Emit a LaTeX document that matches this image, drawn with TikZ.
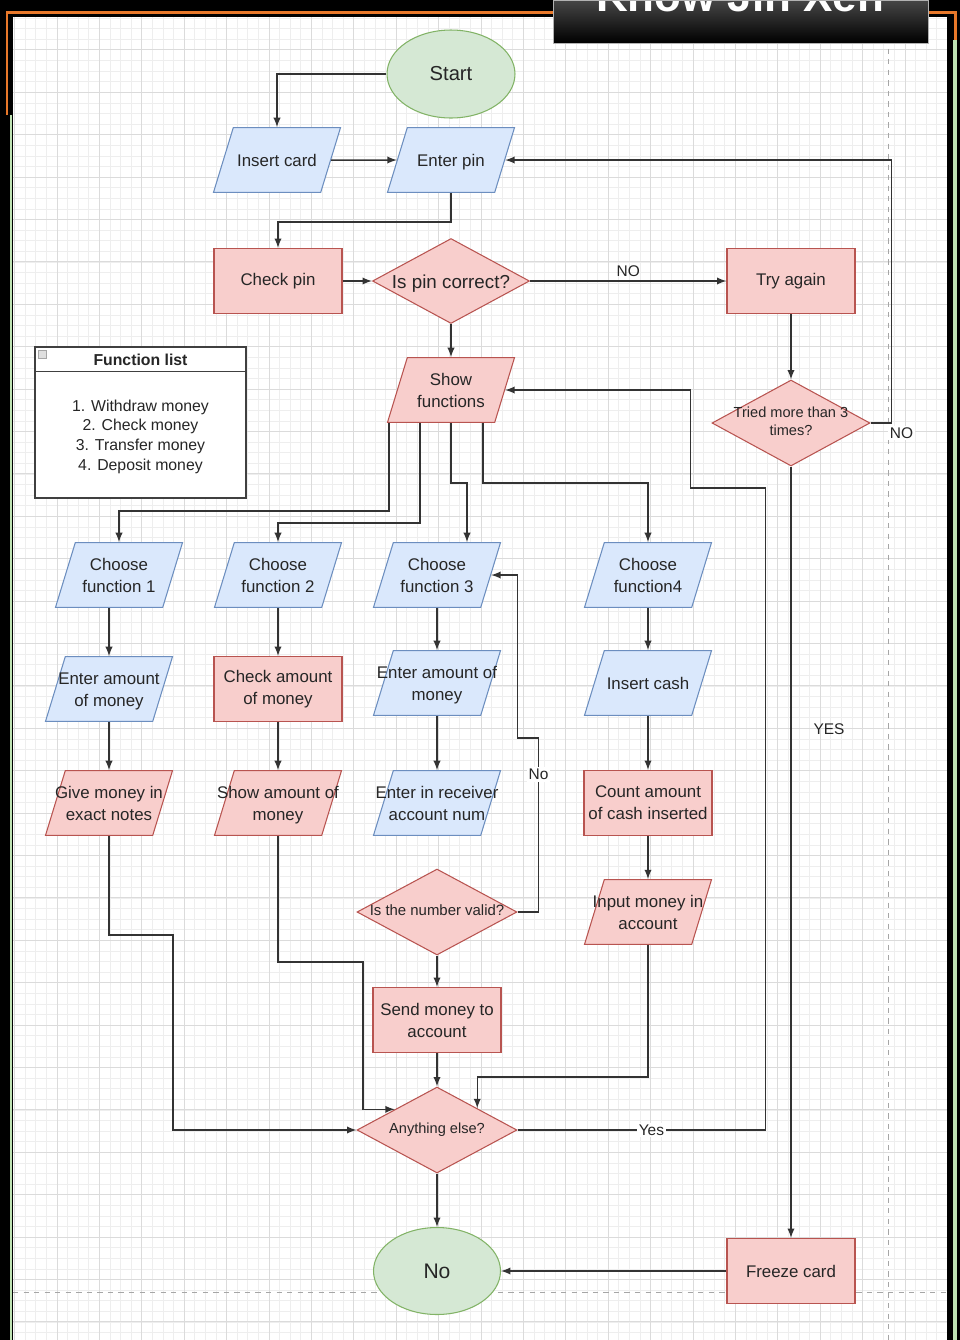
\documentclass[tikz,border=0pt]{standalone}
\usepackage{fontspec}
\setmainfont{Liberation Sans}
\usetikzlibrary{shapes.geometric,positioning,calc}

\definecolor{bluefill}{HTML}{DAE8FC}
\definecolor{bluedraw}{HTML}{6C8EBF}
\definecolor{redfill}{HTML}{F8CECC}
\definecolor{reddraw}{HTML}{B85450}
\definecolor{greenfill}{HTML}{D5E8D4}
\definecolor{greendraw}{HTML}{82B366}
\definecolor{framecol}{HTML}{E8782A}
\definecolor{stripcol}{HTML}{BFE3B4}

\newcommand{\celltext}[1]{\makebox[0pt]{\begin{tabular}{@{}c@{}}#1\end{tabular}}}

\begin{document}
\begin{tikzpicture}[
    x=0.02cm, y=-0.02cm,
    every node/.style={text=black!85, inner sep=0pt},
    startstop/.style={ellipse, draw=greendraw, fill=greenfill, line width=0.6pt},
    io/.style={trapezium, trapezium left angle=73, trapezium right angle=107, trapezium stretches body=true,
        text height=21.9pt, text depth=14.9pt,
        draw=bluedraw, fill=bluefill, line width=0.6pt, minimum width=2.54cm,
        font=\fontsize{9.6}{12.5}\selectfont},
    iored/.style={io, draw=reddraw, fill=redfill},
    process/.style={rectangle, draw=reddraw, fill=redfill, line width=0.6pt, minimum width=2.56cm,
        minimum height=1.3cm, align=center, font=\fontsize{9.6}{12.5}\selectfont},
    decision/.style={diamond, draw=reddraw, fill=redfill, line width=0.6pt, minimum width=3.2cm, minimum height=1.72cm},
    edgelabel/.style={font=\fontsize{8.8}{10}\selectfont, fill=white, inner sep=1pt},
    conn/.style={draw=black!80, line width=0.85pt, -latex},
    gridminor/.style={gray!13, line width=0.35pt},
    gridmajor/.style={gray!28, line width=0.4pt},
    pagebreak/.style={gray!70, dashed, line width=0.5pt},
]
    %Background
    \useasboundingbox (0,0) rectangle (960,1340);
    \fill[black] (0,0) rectangle (960,1340);
    \fill[white] (13,17) rectangle (947,1340);
    \foreach \i in {0,...,87} \draw[gridminor] (14.6+10.6*\i,17) -- (14.6+10.6*\i,1340);
    \foreach \i in {0,...,124} \draw[gridminor] (13,18+10.6*\i) -- (947,18+10.6*\i);
    \foreach \i in {0,...,21} \draw[gridmajor] (14.6+42.4*\i,17) -- (14.6+42.4*\i,1340);
    \foreach \i in {1,...,31} \draw[gridmajor] (13,7.4+42.4*\i) -- (947,7.4+42.4*\i);
    \draw[pagebreak] (888,17) -- (888,1340);
    \draw[pagebreak] (13,1292) -- (947,1292);
    \draw[framecol, line width=1.7pt] (7,115) |- (955,12) -- (955,40);
    \draw[stripcol, line width=1pt] (11,115) -- (11,1340);
    \draw[stripcol, line width=2.5pt] (955,40) -- (955,1340);

    %Nodes
    \node[startstop, minimum width=2.56cm, minimum height=1.76cm, font=\fontsize{11.5}{13}\selectfont] (start) at (451,74) {Start};
    \node[io] (card) at (277,160) {\celltext{Insert card}};
    \node[io] (pin) at (451,160) {\celltext{Enter pin}};
    \node[process] (checkpin) at (278,281) {Check pin};
    \node[decision, minimum width=3.14cm, minimum height=1.7cm, font=\fontsize{10.7}{12}\selectfont] (pinok) at (451,281) {\celltext{\raisebox{-2pt}{Is pin correct?}}};
    \node[process] (retry) at (791,281) {Try again};
    \node[decision, minimum width=3.16cm, font=\fontsize{8.3}{10}\selectfont] (tries) at (791,423) {\celltext{Tried more than 3\\times?}};
    \node[iored] (funcs) at (451,390) {\celltext{Show\\functions}};

    \node[draw=black!75, fill=white, line width=0.6pt, minimum width=4.22cm, minimum height=3.02cm] (flist) at (140.5,422.5) {};
    \node[font=\bfseries\fontsize{9}{11}\selectfont] (fltitle) at ($(flist.north)+(0,13)$) {Function list};
    \node[draw=gray!70, fill=gray!25, minimum size=0.16cm] (flicon) at ($(flist.north west)+(8,8)$) {};
    \node[align=center, font=\fontsize{9}{11.2}\selectfont] (fltext) at ($(flist.north)+(0,90)$) {1. Withdraw money\\2. Check money\\3. Transfer money\\4. Deposit money};
    \draw[black!75, line width=0.6pt] ($(flist.north west)+(0,25)$) -- ($(flist.north east)+(0,25)$);

    \node[io] (f1) at (119,575) {\celltext{Choose\\function 1}};
    \node[io] (f2) at (278,575) {\celltext{Choose\\function 2}};
    \node[io] (f3) at (437,575) {\celltext{Choose\\function 3}};
    \node[io] (f4) at (648,575) {\celltext{Choose\\function4}};

    \node[io] (amount1) at (109,689) {\celltext{Enter amount\\of money}};
    \node[process] (check2) at (278,689) {Check amount\\of money};
    \node[io] (amount3) at (437,683) {\celltext{Enter amount of\\money}};
    \node[io] (cash4) at (648,683) {\celltext{Insert cash}};

    \node[iored] (give1) at (109,803) {\celltext{Give money in\\exact notes}};
    \node[iored] (show2) at (278,803) {\celltext{Show amount of\\money}};
    \node[io] (receiver3) at (437,803) {\celltext{Enter in receiver\\account num}};
    \node[process] (count4) at (648,803) {Count amount\\of cash inserted};

    \node[decision, font=\fontsize{8.5}{10}\selectfont] (valid3) at (437,912) {\celltext{Is the number valid?}};
    \node[iored] (deposit4) at (648,912) {\celltext{Input money in\\account}};
    \node[process] (send3) at (437,1020) {Send money to\\account};
    \node[decision, font=\fontsize{8.3}{10}\selectfont] (more) at (437,1130) {\celltext{Anything else?}};
    \node[startstop, minimum width=2.54cm, minimum height=1.74cm, font=\fontsize{12}{14}\selectfont] (stop) at (437,1271) {No};
    \node[process] (freeze) at (791,1271) {Freeze card};

    %Lines
    \draw[conn] (start.west) -| (card.north);
    \draw[conn] (card) -- (pin);
    \draw[conn] (pin.south) -- ++(0,29) -| (checkpin.north);
    \draw[conn] (checkpin) -- (pinok);
    \draw[conn] (pinok) -- node[edgelabel, above=1pt, fill=none] {NO} (retry);
    \draw[conn] (pinok) -- (funcs);
    \draw[conn] (retry) -- (tries);
    \draw[conn] (tries.east) -- ++(21,0) node[edgelabel, below=1pt, xshift=0.2cm] {NO} |- (pin.east);
    \draw[conn] (tries) -- node[edgelabel, pos=0.34, right=0.4cm, fill=none] {YES} (freeze);
    \draw[conn] (freeze) -- (stop);

    \draw[conn] ($(funcs.south)+(-62,0)$) -- ++(0,88) -| (f1.north);
    \draw[conn] ($(funcs.south)+(-31,0)$) -- ++(0,100) -| (f2.north);
    \draw[conn] (funcs.south) -- ++(0,60) -| ($(f3.north)+(30,0)$);
    \draw[conn] ($(funcs.south)+(32,0)$) -- ++(0,60) -| (f4.north);

    \draw[conn] (amount1.north |- f1.south) -- (amount1.north);
    \draw[conn] (amount1) -- (give1);
    \draw[conn] (f2) -- (check2);
    \draw[conn] (check2) -- (show2);
    \draw[conn] (f3) -- (amount3);
    \draw[conn] (amount3) -- (receiver3);
    \draw[conn] (f4) -- (cash4);
    \draw[conn] (cash4) -- (count4);
    \draw[conn] (count4) -- (deposit4);

    \draw[conn] (valid3.east) -- ++(21,0) -- node[edgelabel, pos=0.79] {No} ++(0,-174) -- ++(-21,0) |- (f3.east);
    \draw[conn] (valid3) -- (send3);
    \draw[conn] (send3) -- (more);
    \draw[conn] (more) -- (stop);
    \draw[conn] (more.east) -- node[edgelabel, pos=0.54] {Yes} ++(248,0) -- ++(0,-642) -- ++(-75,0) |- (funcs.east);
    \draw[conn] (give1.south) -- ++(0,99) -- ++(64,0) |- (more.west);
    \draw[conn] (show2.south) -- ++(0,126) -- ++(85,0) |- ($(more.west)!0.475!(more.north)$);
    \draw[conn] (deposit4.south) -- ++(0,132) -| ($(more.north)!0.5!(more.east)$);

    %Banner
    \begin{scope}
        \clip (553,0) rectangle (928,43);
        \shade[top color=gray!55!black, bottom color=black] (553,0) rectangle (928,43);
        \node[anchor=base, text=white, font=\bfseries\fontsize{25}{25}\selectfont] (banner) at (740,11) {Know Jin Xeh};
    \end{scope}
    \draw[gray!60, line width=0.4pt] (553,0) rectangle (928,43);
\end{tikzpicture}
\end{document}
